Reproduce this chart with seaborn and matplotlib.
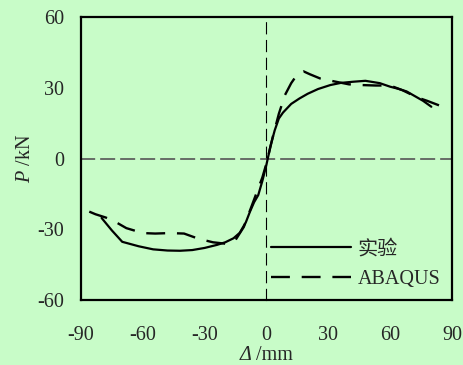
import matplotlib
matplotlib.use("Agg")
import matplotlib.pyplot as plt
from matplotlib.offsetbox import TextArea, HPacker, AnchoredOffsetbox
import seaborn as sns
import pandas as pd

# ---- data ----
exp_x = [-80, -75, -70, -62, -55, -48, -42, -36, -30, -24, -20, -16, -13, -10, -8, -6, -4, -2, 0, 2, 4, 6, 8,
         12, 16, 20, 25, 31, 36, 42, 48, 55, 60, 64, 68, 72, 76, 80]
exp_y = [-25.2, -30.5, -35.3, -37.2, -38.5, -39.0, -39.1, -38.8, -37.9, -36.6, -35.5, -33.8, -31.5, -27, -22.5,
         -18.5, -15.5, -9.5, -2.5, 5.5, 12, 17, 19.5, 23.2, 25.5, 27.5, 29.5, 31.2, 32.1, 32.6, 33, 32, 30.5,
         29.6, 28.5, 26.5, 24.5, 22]
aba_x = [-86, -83, -78, -74, -68, -60, -54, -47, -40, -33, -26, -19, -15, -11, -8, -5, -2, 0, 3, 6, 9, 12,
         15, 18, 21, 26, 32, 40, 46, 53, 60, 66, 73, 78, 84]
aba_y = [-22.5, -23.6, -25, -26.5, -29.5, -31.6, -31.8, -31.6, -31.8, -34, -35.5, -36.2, -34.5, -29, -22, -15,
         -8, -2, 9, 19, 27, 32, 35.8, 37, 35.8, 34, 32.9, 31.5, 31.2, 31, 31, 29, 26, 24.5, 22.5]
ticks = [-90, -60, -30, 0, 30, 60, 90]
yticks = [-60, -30, 0, 30, 60]
inner_ticks = [-60, -30, 30, 60]
labels = ["实验", "ABAQUS"]

sns.set_style("white")
plt.rcParams['font.family'] = ['Liberation Serif', 'Noto Sans CJK SC']
plt.rcParams['mathtext.fontset'] = 'custom'
plt.rcParams['mathtext.it'] = 'Liberation Serif:italic'
plt.rcParams['mathtext.rm'] = 'Liberation Serif'
plt.rcParams['axes.unicode_minus'] = False

bg = '#c8fcc8'
fs = 14.5
fig = plt.figure(figsize=(4.64, 3.65), dpi=100, facecolor=bg)
pos = [0.1746, 0.178, 0.7994, 0.775]

# background axes for zero lines with inner ticks
ax2 = fig.add_axes(pos)
ax2.set_facecolor(bg)
for k in ['top', 'right']:
    ax2.spines[k].set_visible(False)
ax2.set_xlim(-90, 90)
ax2.set_ylim(-60, 60)
ax2.spines['bottom'].set_position(('data', 0))
ax2.spines['left'].set_position(('data', 0))
ax2.spines['bottom'].set_linestyle((0, (8, 4)))
ax2.spines['bottom'].set_color('#555555')
ax2.spines['bottom'].set_linewidth(1.2)
ax2.spines['left'].set_linestyle((0, (10, 6)))
ax2.spines['left'].set_color('black')
ax2.spines['left'].set_linewidth(0.8)
ax2.set_xticks(inner_ticks)
ax2.set_yticks(inner_ticks)
ax2.tick_params(axis='x', direction='in', length=4, width=0.8, color='#555555', labelbottom=False)
ax2.tick_params(axis='y', direction='in', length=4, width=0.8, color='black', labelleft=False)

ax = fig.add_axes(pos)
ax.patch.set_visible(False)

df_exp = pd.DataFrame({'x': exp_x, 'y': exp_y})
df_aba = pd.DataFrame({'x': aba_x, 'y': aba_y})
sns.lineplot(data=df_exp, x='x', y='y', ax=ax, color='black', lw=1.6, label=labels[0], sort=False)
sns.lineplot(data=df_aba, x='x', y='y', ax=ax, color='black', lw=1.7, label=labels[1], sort=False,
             linestyle=(0, (8, 5)))

ax.set_xlim(-90, 90)
ax.set_ylim(-60, 60)
ax.set_xticks(ticks)
ax.set_yticks(yticks)
ax.tick_params(axis='x', length=0, pad=19, labelsize=fs)
ax.tick_params(axis='y', length=0, pad=12, labelsize=fs)
for s in ax.spines.values():
    s.set_visible(True)
    s.set_color('black')
    s.set_linewidth(1.6)

ax.set_xlabel('')
ax.set_ylabel('$\\mathit{P}$ /kN', fontsize=fs, labelpad=2)

# x label: italic Delta + upright unit
ta1 = TextArea('Δ', textprops=dict(fontsize=fs, style='italic', family='Liberation Serif'))
ta2 = TextArea(' /mm', textprops=dict(fontsize=fs, family='Liberation Serif'))
box = HPacker(children=[ta1, ta2], align='baseline', pad=0, sep=0)
anch = AnchoredOffsetbox(loc='center', child=box, frameon=False, pad=0, borderpad=0,
                         bbox_to_anchor=(0.5, -0.195), bbox_transform=ax.transAxes)
ax.add_artist(anch)

leg = ax.legend(loc='lower right', bbox_to_anchor=(1.017, -0.026), frameon=False, fontsize=fs,
                handlelength=4, handletextpad=0.3, labelspacing=0.55)

fig.savefig('out.png', dpi=100, facecolor=bg)
